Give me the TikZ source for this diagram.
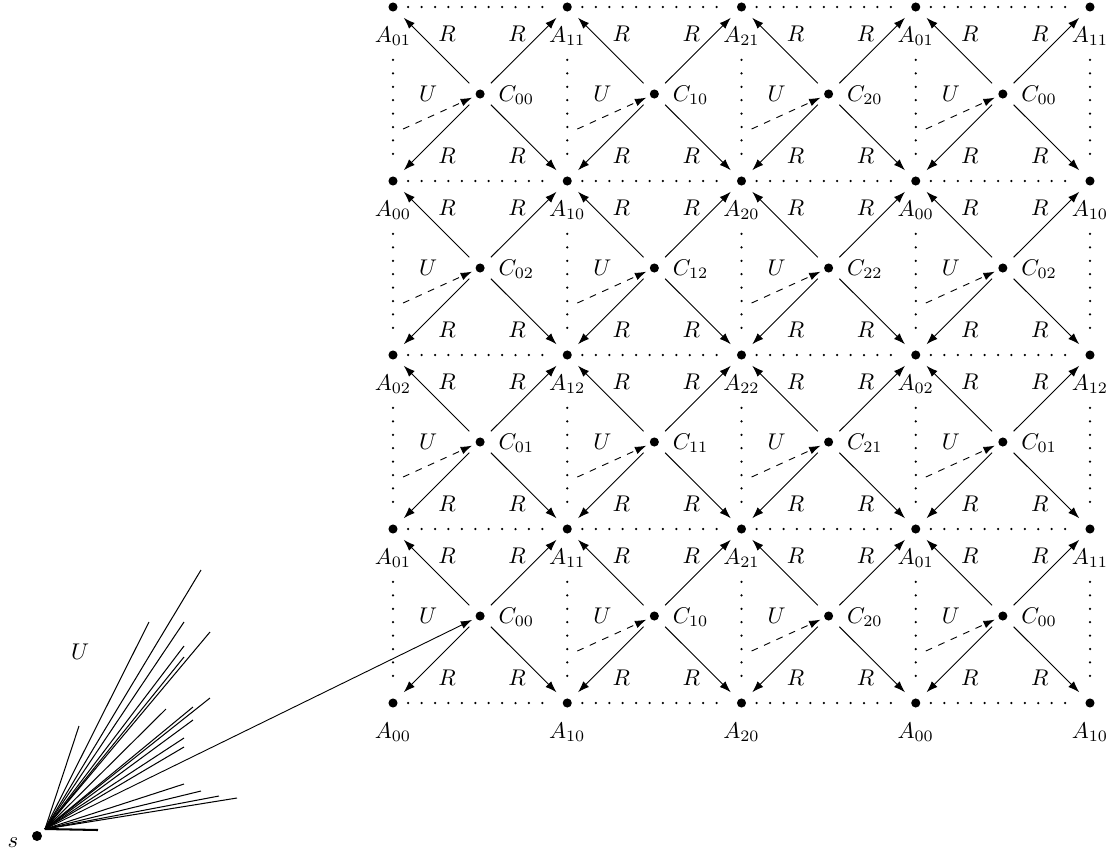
\documentclass[tikz,border=0pt]{standalone}
\usetikzlibrary{arrows.meta,calc}
\begin{document}
\begin{tikzpicture}[x=0.44pt,y=-0.44pt,
  dot/.style={circle,minimum size=13pt,inner sep=0pt,
    path picture={\fill (path picture bounding box.center) circle (2pt);}},
  sdot/.style={circle,minimum size=9.4pt,inner sep=0pt,
    path picture={\fill (path picture bounding box.center) circle (2.2pt);}},
  arr/.style={-{Latex[length=5pt,width=3.5pt]}},
  gridline/.style={line width=1.1pt,line cap=round,dash pattern=on 0pt off 5.9pt},
  alab/.style={anchor=base,inner xsep=0pt,inner ysep=3pt,outer ysep=3.4pt},
  clab/.style={anchor=base west,inner sep=0pt},
  rlab/.style={inner sep=0pt}]
\useasboundingbox (0,0) rectangle (1116,854);
% A nodes
\foreach \i/\a in {0/0,1/1,2/2,3/0,4/1}{
  \foreach \j/\b in {0/1,1/0,2/2,3/1,4/0}{
    \node[dot] (A-\i-\j) at ({393+174.25*\i},{7+174*\j}) {};
    \node[alab] (L-\i-\j) at ({393+174.25*\i},{42+174*\j}) {$A_{\a\b}$};
  }}
% dotted grid
\foreach \i/\n in {0/1,1/2,2/3,3/4}{
  \foreach \j in {0,...,4}{
    \draw[gridline] (A-\i-\j) -- (A-\n-\j);
  }}
\foreach \i in {0,...,4}{
  \foreach \j/\n in {0/1,1/2,2/3,3/4}{
    \draw[gridline] (L-\i-\j) -- (A-\i-\n);
  }}
% C nodes and arrows
\foreach \i/\a/\ii in {0/0/1,1/1/2,2/2/3,3/0/4}{
  \foreach \j/\b/\jj in {0/0/1,1/2/2,2/1/3,3/0/4}{
    \node[dot] (C-\i-\j) at ({480.1+174.25*\i},{94+174*\j}) {};
    \node[clab] at ($(C-\i-\j)+(18,7.5)$) {$C_{\a\b}$};
    \draw[arr] (C-\i-\j) -- (A-\i-\j);
    \draw[arr] (C-\i-\j) -- (A-\ii-\j);
    \draw[arr] (C-\i-\j) -- (A-\i-\jj);
    \draw[arr] (C-\i-\j) -- (A-\ii-\jj);
    \node[rlab] at ($(C-\i-\j)+(-33,-60)$) {$R$};
    \node[rlab] at ($(C-\i-\j)+(37,-60)$) {$R$};
    \node[rlab] at ($(C-\i-\j)+(-33,62)$) {$R$};
    \node[rlab] at ($(C-\i-\j)+(37,62)$) {$R$};
    \node[rlab] at ($(C-\i-\j)+(-52,0)$) {$U$};
  }}
% dashed U arrows (all cells except bottom-left)
\foreach \i/\j in {0/0,1/0,2/0,3/0,0/1,1/1,2/1,3/1,0/2,1/2,2/2,3/2,1/3,2/3,3/3}{
  \coordinate (u-\i-\j) at ($(C-\i-\j)+(-77,35)$);
  \draw[arr,dashed,shorten >=-2.8pt] (u-\i-\j) -- (C-\i-\j);
}
% s and the fan
\node[sdot] (s) at (37,836) {};
\node[rlab] (sl) at (13,843) {$s$};
\coordinate (f) at (45,829);
\node[rlab] (ul) at (80,652) {$U$};
\foreach \k/\p in {1/{79,726},2/{149,622},3/{201,570},4/{184,622},5/{210,632},
  6/{184,646},7/{184,657},8/{166,709},9/{210,698},10/{193,707},11/{193,720},
  12/{184,738},13/{184,747},14/{184,784},15/{201,791},16/{219,796},17/{237,798}}{
  \coordinate (e\k) at (\p);
  \draw[line width=0.45pt] (f) -- (e\k);
}
\coordinate (eh) at (98,830);
\draw[line width=0.9pt] (f) -- (eh);
\draw[arr,shorten >=-2.8pt] (f) -- (C-0-3);
\end{tikzpicture}
\end{document}
